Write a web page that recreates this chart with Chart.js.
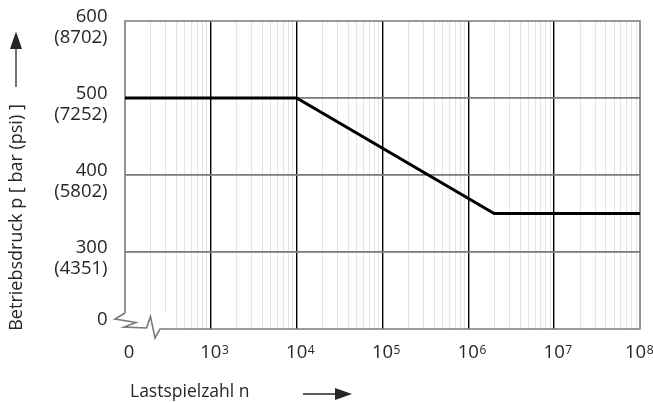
<!DOCTYPE html>
<html>
<head>
<meta charset="utf-8">
<script src="https://cdn.jsdelivr.net/npm/chart.js@4.4.1/dist/chart.umd.min.js"></script>
<style>
  html, body { margin: 0; padding: 0; background: #ffffff; }
  #wrap { width: 653px; height: 403px; }
</style>
</head>
<body>
<div id="wrap"><canvas id="c" width="653" height="403"></canvas></div>
<script>
// ---- data ----
const cycles = [100, 1e4, 2e6, 1e8];          // Lastspielzahl n
const pressure = [500, 500, 350, 350];        // Betriebsdruck p [bar]

const xTickValues = [100, 1e3, 1e4, 1e5, 1e6, 1e7, 1e8];
const xTickBase = ['0', '10', '10', '10', '10', '10', '10'];
const xTickExp = ['', '3', '4', '5', '6', '7', '8'];

const yTickValues = [214, 300, 400, 500, 600];
const yTickBar = ['0', '300', '400', '500', '600'];
const yTickPsi = ['', '(4351)', '(5802)', '(7252)', '(8702)'];
const yGridValues = [300, 400, 500, 600];

const xTitle = 'Lastspielzahl n';
const yTitle = 'Betriebsdruck p [ bar (psi) ]';

// minor + major ticks of the log axis
const xGridValues = [];
for (let e = 2; e < 8; e++) {
  for (let m = 1; m <= 9; m++) xGridValues.push(m * Math.pow(10, e));
}
xGridValues.push(1e8);

function isDecade(v) {
  const e = Math.round(Math.log10(v));
  return Math.abs(v - Math.pow(10, e)) < 1e-6 * v;
}

const FONT = '"Open Sans", "Noto Sans", sans-serif';
const TXT = '#262626';
const GRAYLINE = '#7a7a7a';

const decoPlugin = {
  id: 'deco',
  beforeDatasetsDraw(chart) {
    const ctx = chart.ctx, ca = chart.chartArea;
    const L = ca.left, R = ca.right, T = ca.top, B = ca.bottom;
    ctx.save();
    // clear the break region
    ctx.fillStyle = '#ffffff';
    ctx.fillRect(L + 1, B - 16, 44, 17);
    ctx.fillRect(L - 20, B - 16, 20, 30);
    ctx.strokeStyle = GRAYLINE;
    ctx.lineWidth = 1.6;
    ctx.lineJoin = 'miter';
    // top, right, bottom (after break), left border
    ctx.beginPath();
    ctx.moveTo(L, B - 16);
    ctx.lineTo(L, T);
    ctx.lineTo(R, T);
    ctx.lineTo(R, B);
    ctx.lineTo(L + 45, B);
    ctx.stroke();
    // break zigzag
    ctx.beginPath();
    ctx.moveTo(L, B - 16);
    ctx.lineTo(L - 10, B - 10);
    ctx.lineTo(L + 11, B - 6.5);
    ctx.lineTo(L - 1, B - 2);
    ctx.lineTo(L + 21.5, B - 1);
    ctx.lineTo(L + 25.5, B - 12.5);
    ctx.lineTo(L + 30, B + 9);
    ctx.lineTo(L + 35, B);
    ctx.lineTo(L + 45, B);
    ctx.stroke();
    ctx.restore();
  },
  afterDraw(chart) {
    const ctx = chart.ctx, ca = chart.chartArea;
    const xs = chart.scales.x, ys = chart.scales.y;
    const L = ca.left, B = ca.bottom;
    const W = chart.width;
    ctx.save();
    ctx.fillStyle = TXT;
    // y tick labels
    ctx.font = '18.5px ' + FONT;
    ctx.textAlign = 'right';
    ctx.textBaseline = 'alphabetic';
    yTickValues.forEach((v, i) => {
      const py = ys.getPixelForValue(v);
      if (yTickPsi[i]) {
        ctx.fillText(yTickBar[i], L - 17.5, py + 1);
        ctx.fillText(yTickPsi[i], L - 17.5, py + 21.5);
      } else {
        ctx.fillText(yTickBar[i], L - 17.5, py + 6.5);
      }
    });
    // x tick labels
    xTickValues.forEach((v, i) => {
      let px = xs.getPixelForValue(v) + (i === 0 ? 4 : 0);
      ctx.font = '18.5px ' + FONT;
      const w = ctx.measureText(xTickBase[i]).width;
      let ew = 0;
      if (xTickExp[i]) {
        ctx.font = '12px ' + FONT;
        ew = ctx.measureText(xTickExp[i]).width;
      }
      // keep label inside the canvas
      if (px + w / 2 + ew > W) px = W - w / 2 - ew;
      ctx.font = '18.5px ' + FONT;
      ctx.textAlign = 'center';
      ctx.fillText(xTickBase[i], px, B + 29);
      if (xTickExp[i]) {
        ctx.font = '12px ' + FONT;
        ctx.textAlign = 'left';
        ctx.fillText(xTickExp[i], px + w / 2 + 0.5, B + 24.5);
      }
    });
    // x title
    ctx.font = '17.5px ' + FONT;
    ctx.textAlign = 'left';
    ctx.fillText(xTitle, 130, 396.5);
    // y title rotated
    ctx.save();
    ctx.translate(17, 217.5);
    ctx.rotate(-Math.PI / 2);
    ctx.font = '18px ' + FONT;
    ctx.textAlign = 'center';
    ctx.textBaseline = 'middle';
    ctx.fillText(yTitle, 0, 0);
    ctx.restore();
    // arrows
    ctx.strokeStyle = TXT;
    ctx.lineWidth = 1.3;
    ctx.beginPath();
    ctx.moveTo(303, 394); ctx.lineTo(337, 394);
    ctx.moveTo(16, 87); ctx.lineTo(16, 47);
    ctx.stroke();
    ctx.beginPath();
    ctx.moveTo(352, 394); ctx.lineTo(335, 388); ctx.lineTo(335, 400); ctx.closePath();
    ctx.fill();
    ctx.beginPath();
    ctx.moveTo(16, 31.5); ctx.lineTo(10, 49); ctx.lineTo(22, 49); ctx.closePath();
    ctx.fill();
    ctx.restore();
  }
};

new Chart(document.getElementById('c'), {
  type: 'line',
  data: {
    datasets: [{
      data: cycles.map((x, i) => ({ x: x, y: pressure[i] })),
      borderColor: '#000000',
      borderWidth: 3,
      pointRadius: 0,
      fill: false,
      tension: 0
    }]
  },
  options: {
    responsive: false,
    animation: false,
    events: [],
    layout: { padding: { left: 125, right: 13, top: 21, bottom: 74 } },
    plugins: { legend: { display: false }, tooltip: { enabled: false } },
    scales: {
      x: {
        type: 'logarithmic',
        min: 100, max: 1e8,
        afterBuildTicks: (s) => { s.ticks = xGridValues.map(v => ({ value: v })); },
        ticks: { display: false },
        border: { display: false },
        grid: {
          drawTicks: false,
          color: (c) => {
            const v = c.tick.value;
            if (v <= 100 || v >= 1e8) return 'rgba(0,0,0,0)';
            return isDecade(v) ? '#000000' : '#e4e4e4';
          },
          lineWidth: (c) => isDecade(c.tick.value) ? 1.4 : 1
        }
      },
      y: {
        type: 'linear',
        min: 200, max: 600,
        afterBuildTicks: (s) => { s.ticks = yGridValues.map(v => ({ value: v })); },
        ticks: { display: false },
        border: { display: false },
        grid: {
          drawTicks: false,
          color: (c) => c.tick.value >= 600 ? 'rgba(0,0,0,0)' : GRAYLINE,
          lineWidth: 1.7
        }
      }
    }
  },
  plugins: [decoPlugin]
});
</script>
</body>
</html>
